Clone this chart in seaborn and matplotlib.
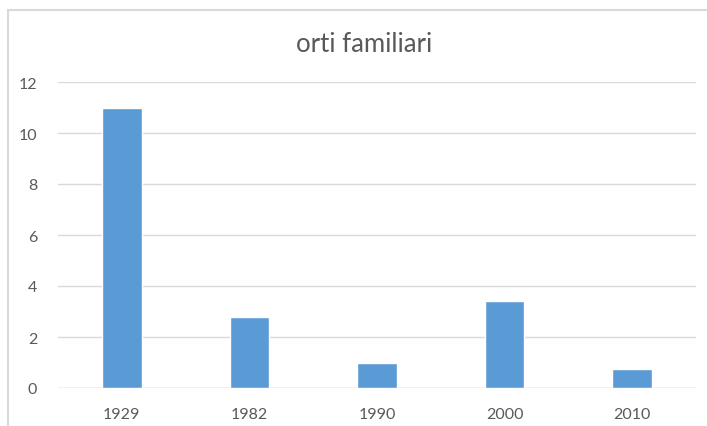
import matplotlib
matplotlib.use("Agg")
import matplotlib.pyplot as plt
from matplotlib.patches import Rectangle
import seaborn as sns
import pandas as pd

# Data
years = ["1929", "1982", "1990", "2000", "2010"]
values = [11, 2.8, 1.0, 3.4, 0.75]
y_ticks = [0, 2, 4, 6, 8, 10, 12]
title = "orti familiari"

bar_color = "#5B9BD5"
grid_color = "#D9D9D9"
text_color = "#595959"

sns.set_theme(style="white")
plt.rcParams["font.family"] = ["Lato", "DejaVu Sans"]

W, H = 707, 427
fig = plt.figure(figsize=(W / 100, H / 100), dpi=100)
ax = fig.add_axes([58 / W, 1 - 389 / H, (696 - 58) / W, (389 - 83) / H])

df = pd.DataFrame({"anno": years, "orti": values})
sns.barplot(data=df, x="anno", y="orti", color=bar_color, saturation=1,
            width=0.31, ax=ax, zorder=3)

ax.set_ylim(0, 12)
ax.set_xlim(-0.5, len(years) - 0.5)
ax.set_yticks(y_ticks)
ax.set_yticklabels([str(t) for t in y_ticks])
ax.yaxis.grid(True, color=grid_color, linewidth=1.0, zorder=0)
ax.set_axisbelow(True)
for s in ax.spines.values():
    s.set_visible(False)
ax.axhline(0, color=grid_color, linewidth=1.0, zorder=2)
ax.set_xlabel("")
ax.set_ylabel("")
ax.tick_params(axis="both", length=0, labelsize=11.5, labelcolor=text_color)
ax.tick_params(axis="y", pad=15)
ax.tick_params(axis="x", pad=14)

fig.text(364.5 / W, 1 - 52 / H, title, ha="center", va="baseline",
         fontsize=18.5, color=text_color)

# chart frame
fig.patches.append(Rectangle((8 / W, -0.05), 1.2, 1 - 11 / H + 0.05,
                             transform=fig.transFigure, fill=False,
                             edgecolor=grid_color, linewidth=1.5))

fig.savefig("out.png", dpi=100)
